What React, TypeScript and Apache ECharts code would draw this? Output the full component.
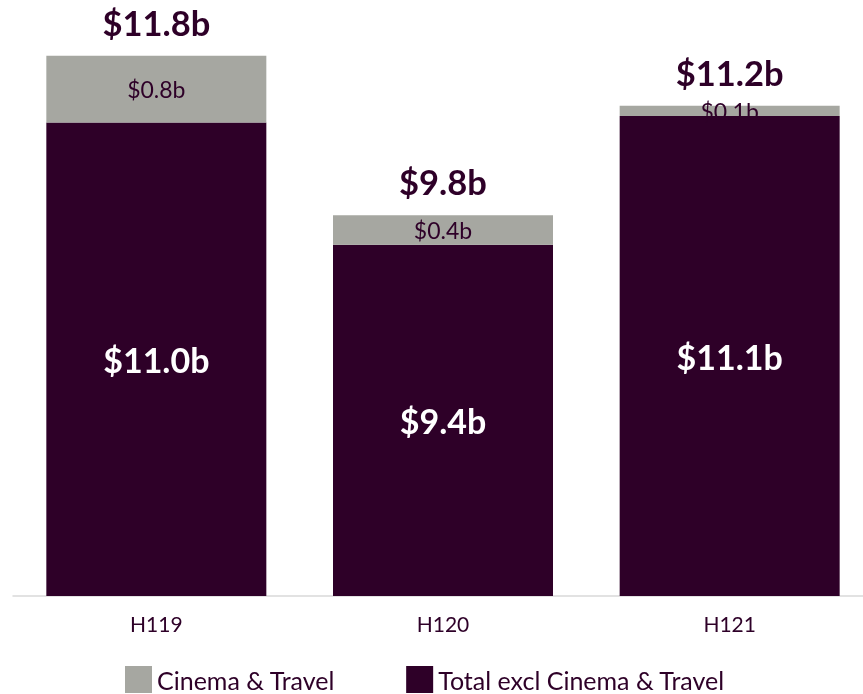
import React, { useEffect, useRef } from "react";
import * as echarts from "echarts";

const categories = ["H119", "H120", "H121"];
const exclValues = [10.96, 9.42, 11.04];
const cinemaValues = [0.84, 0.37, 0.13];
const exclLabels = ["$11.0b", "$9.4b", "$11.1b"];
const cinemaLabels = ["$0.8b", "$0.4b", "$0.1b"];
const totalLabels = ["$11.8b", "$9.8b", "$11.2b"];

const DARK = "#2e0028";
const GRAY = "#a6a7a1";
const FONT = "Lato";

export default function App() {
  const ref = useRef<HTMLDivElement>(null);
  useEffect(() => {
    if (!ref.current) return;
    const chart = echarts.init(ref.current, undefined, { renderer: "svg" });
    const totals = exclValues.map((v, i) => +(v + cinemaValues[i]).toFixed(3));
    chart.setOption({
      animation: false,
      textStyle: { fontFamily: FONT },
      grid: { left: 13, right: 0, top: 0, height: 596 },
      legend: {
        data: ["Cinema & Travel", "Total excl Cinema & Travel"],
        left: 125,
        top: 666,
        padding: 0,
        itemWidth: 27,
        itemHeight: 27,
        itemGap: 71,
        icon: "rect",
        textStyle: { fontFamily: FONT, fontSize: 25, color: DARK, lineHeight: 25 },
      },
      xAxis: {
        type: "category",
        data: categories,
        axisTick: { show: false },
        axisLine: { lineStyle: { color: "#d9d9d9", width: 1.5 } },
        axisLabel: { fontFamily: FONT, fontSize: 21, color: DARK, margin: 17 },
      },
      yAxis: { type: "value", min: 5, max: 12.5, show: false, splitLine: { show: false } },
      series: [
        {
          name: "Total excl Cinema & Travel",
          type: "bar",
          stack: "s",
          barWidth: 220,
          data: exclValues,
          itemStyle: { color: DARK },
          label: {
            show: true,
            position: "inside",
            color: "#ffffff",
            fontFamily: FONT,
            fontWeight: "bold",
            fontSize: 34,
            formatter: (p: any) => exclLabels[p.dataIndex],
          },
        },
        {
          name: "Cinema & Travel",
          type: "bar",
          stack: "s",
          barWidth: 220,
          data: cinemaValues,
          itemStyle: { color: GRAY },
          label: {
            show: true,
            position: "inside",
            color: DARK,
            fontFamily: FONT,
            fontSize: 23,
            formatter: (p: any) => cinemaLabels[p.dataIndex],
          },
        },
        {
          name: "Total",
          type: "bar",
          barWidth: 220,
          barGap: "-100%",
          data: totals,
          silent: true,
          itemStyle: { color: "rgba(0,0,0,0)" },
          label: {
            show: true,
            position: "top",
            distance: 16,
            color: DARK,
            fontFamily: FONT,
            fontWeight: "bold",
            fontSize: 34.5,
            formatter: (p: any) => totalLabels[p.dataIndex],
          },
        },
      ],
    });
    return () => chart.dispose();
  }, []);
  return (
    <div
      ref={ref}
      style={{ position: "fixed", left: 0, top: 0, width: 873, height: 694 }}
    />
  );
}
